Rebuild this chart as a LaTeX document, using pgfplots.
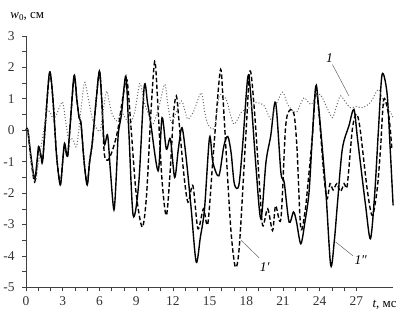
\documentclass[border=0pt]{standalone}
\usepackage{fontspec}
\setmainfont{Liberation Serif}
\usepackage{pgfplots}
\pgfplotsset{compat=1.18}
\begin{document}
\begin{tikzpicture}
\begin{axis}[
  scale only axis, width=369pt, height=253pt,
  xmin=0, xmax=30, ymin=-5, ymax=3,
  axis lines=left,
  axis line style={-, line width=0.6pt, black!75},
  xtick={0,3,...,27}, ytick={-5,-4,...,3},
  minor x tick num=2, minor y tick num=1,
  tick align=outside, major tick length=4pt, minor tick length=4pt,
  tick style={black!75, line width=0.6pt},
  clip=false,
  ticklabel style={font=\fontsize{13.5}{13.5}\selectfont, text=black!80},
  xticklabel style={yshift=-2pt},
  yticklabel style={xshift=-4pt},
  /pgf/number format/assume math mode=true,
]
% solid 1''
\addplot[black, line width=1.4pt, smooth, tension=0.5] coordinates {
(0,0) (0.15,0) (0.4,-0.8) (0.7,-1.55) (0.9,-1.0) (1.03,-0.52) (1.2,-0.75) (1.36,-0.97)
(1.6,0.3) (1.93,1.85) (2.2,1.0) (2.5,-0.8) (2.8,-1.74) (3.0,-1.0) (3.15,-0.42) (3.39,-0.83)
(3.6,0.1) (3.93,1.74) (4.15,1.0) (4.34,0.40) (4.5,0.2) (4.75,-1.0) (5.0,-1.74) (5.2,-1.0)
(5.42,-0.39) (5.7,0.8) (6.0,1.88) (6.2,0.9) (6.4,-0.44) (6.67,-0.16) (6.9,-1.3) (7.19,-2.53)
(7.4,-1.3) (7.54,-0.13) (7.8,0.5) (8.16,1.72) (8.4,0.0) (8.76,-2.71) (9.22,-1.66) (9.66,1.38)
(9.93,0.88) (10.2,0.2) (10.8,-1.29) (11.12,0.40) (11.47,-0.60) (11.8,-0.28) (12.15,-1.50)
(12.45,-0.6) (12.75,0.08) (13.1,-0.92) (13.5,-2.5) (13.91,-4.19) (14.25,-3.4) (14.59,-2.5)
(15.0,-0.23) (15.27,-1.02) (15.76,-1.45) (16.17,-0.50) (16.49,-0.20) (16.76,-0.71) (17.03,-1.71)
(17.39,-1.76) (17.7,-0.5) (18.12,1.67) (18.35,1.2) (18.8,-1.2) (19.2,-2.82) (19.61,-1.02)
(20.0,-0.18) (20.4,0.88) (20.83,-1.34) (21.1,-1.66) (21.5,-2.92) (21.86,-2.6) (22.1,-2.9)
(22.46,-3.61) (22.8,-2.9) (23.13,-1.97) (23.4,-0.2) (23.68,1.40) (23.9,0.8) (24.49,-1.87)
(24.9,-4.29) (25.2,-3.5) (25.44,-2.39) (25.85,-0.60) (26.39,0.14) (26.8,0.66) (27.1,-0.3)
(27.75,-2.39) (28.15,-3.45) (28.5,-2.0) (28.8,0.0) (29.1,1.77) (29.5,1.19) (29.75,-0.5) (30.0,-2.39)
};
% dashed 1'
\addplot[black, line width=1.4pt, dash pattern=on 4.5pt off 2.5pt, smooth, tension=0.5] coordinates {
(0,0) (0.15,0) (0.4,-0.9) (0.7,-1.65) (0.9,-1.1) (1.03,-0.55) (1.2,-0.8) (1.36,-1.0)
(1.6,0.3) (1.93,1.8) (2.2,1.0) (2.5,-0.8) (2.8,-1.7) (3.0,-1.0) (3.15,-0.45) (3.39,-0.85)
(3.6,0.1) (3.93,1.7) (4.15,1.0) (4.34,0.4) (4.5,0.2) (4.75,-1.0) (5.0,-1.7) (5.2,-1.0)
(5.42,-0.4) (5.7,0.8) (6.0,1.85) (6.2,0.9) (6.4,-0.74) (6.7,-0.95) (7.1,-0.6) (7.5,0.0)
(7.9,1.0) (8.25,1.6) (8.6,0.0) (9.0,-2.0) (9.5,-3.08) (9.85,-2.08) (10.2,0.5) (10.52,2.19)
(10.75,1.0) (11.1,-1.5) (11.47,-2.71) (11.8,-1.2) (12.05,0.5) (12.29,1.09) (12.5,0.3)
(12.9,-1.4) (13.24,-2.29) (13.64,-1.76) (14.05,-3.13) (14.5,-2.5) (14.86,-2.97) (15.3,-0.8)
(15.87,1.88) (16.1,1.0) (16.4,-1.0) (16.75,-3.2) (17.11,-4.35) (17.44,-3.66) (17.98,-0.07)
(18.31,1.88) (18.66,0.66) (19.07,-1.66) (19.34,-3.03) (19.75,-2.5) (20.15,-3.19) (20.4,-2.4)
(20.83,-2.82) (21.2,0.03) (21.5,0.61) (21.9,0.51) (22.15,-0.6) (22.45,-3.1) (22.8,-2.6)
(23.0,-1.87) (23.4,-0.2) (23.68,1.3) (23.95,0.5) (24.35,-1.45) (24.6,-2.18) (24.85,-1.7)
(25.1,-1.9) (25.4,-1.7) (25.7,-1.95) (26.0,-1.7) (26.25,-1.76) (26.67,0.03) (27.0,0.51) (27.3,0.05) (27.88,-1.87)
(28.3,-2.71) (28.7,-1.87) (28.97,-0.6) (29.24,0.98) (29.65,0.45) (29.9,-0.6)
};
% dotted 1
\addplot[black!60, line width=1pt, dotted, smooth, tension=0.5] coordinates {
(0,0) (0.15,0) (0.4,-0.9) (0.75,-1.65) (1.0,-1.1) (1.2,-0.6) (1.45,0.0) (1.71,0.61)
(2.0,0.55) (2.25,0.35) (2.6,0.6) (2.98,0.90) (3.2,0.4) (3.47,-0.28) (3.7,-0.25) (3.9,-0.35)
(4.15,-0.50) (4.45,0.5) (4.77,1.51) (5.0,1.2) (5.4,0.4) (5.7,0.1) (6.05,-0.02) (6.3,0.6)
(6.59,1.24) (6.8,0.9) (7.0,0.56) (7.4,0.30) (7.8,0.56) (8.1,0.4) (8.5,0.2) (8.9,0.6)
(9.3,1.48) (9.6,1.0) (9.85,0.66) (10.1,0.4) (10.39,0.19) (10.9,0.8) (11.34,1.46) (11.6,0.8)
(11.88,0.24) (12.2,0.5) (12.7,0.93) (13.0,0.6) (13.24,0.35) (13.7,0.6) (14.32,1.19) (14.6,0.6)
(14.86,0.19) (15.4,0.08) (15.8,1.09) (16.36,0.98) (16.7,0.5) (17.03,0.19) (17.58,0.56)
(17.98,0.66) (18.4,0.75) (18.8,0.88) (19.47,0.77) (20.0,0.35) (20.4,0.77) (20.97,1.21)
(21.4,0.8) (22.05,0.56) (22.4,0.8) (22.73,1.03) (23.27,0.82) (23.6,1.0) (24.03,1.14)
(24.5,0.8) (25.03,0.40) (25.4,0.8) (25.7,1.09) (26.1,0.9) (26.5,0.72) (27.0,0.75) (27.5,0.72)
(28.15,0.88) (28.8,1.30) (29.2,0.9) (29.6,0.7) (30.0,0.40)
};
% annotations
\draw[black!60, line width=0.5pt] (axis cs:25.04,2.09) -- (axis cs:26.39,1.09);
\node[font=\fontsize{13.5}{13.5}\selectfont\itshape] at (axis cs:24.8,2.28) {1};
\draw[black!60, line width=0.5pt] (axis cs:17.58,-3.5) -- (axis cs:19.06,-4.06);
\node[font=\fontsize{13.5}{13.5}\selectfont\itshape] at (axis cs:19.5,-4.34) {1′};
\draw[black!60, line width=0.5pt] (axis cs:25.3,-3.55) -- (axis cs:26.74,-4.0);
\node[font=\fontsize{13.5}{13.5}\selectfont\itshape] at (axis cs:27.35,-4.14) {1″};
% axis titles
\node[font=\fontsize{13}{13}\selectfont] at (axis cs:0.1,3.6) {\textit{w}\raisebox{-0.35ex}{\fontsize{9}{9}\selectfont 0}, см};
\node[font=\fontsize{13}{13}\selectfont] at (axis cs:29.3,-5.54) {\textit{t}, мс};
% bounding box
\path (axis cs:-1.951,-5.917) rectangle (axis cs:31.626,4.138);
\end{axis}
\end{tikzpicture}
\end{document}
